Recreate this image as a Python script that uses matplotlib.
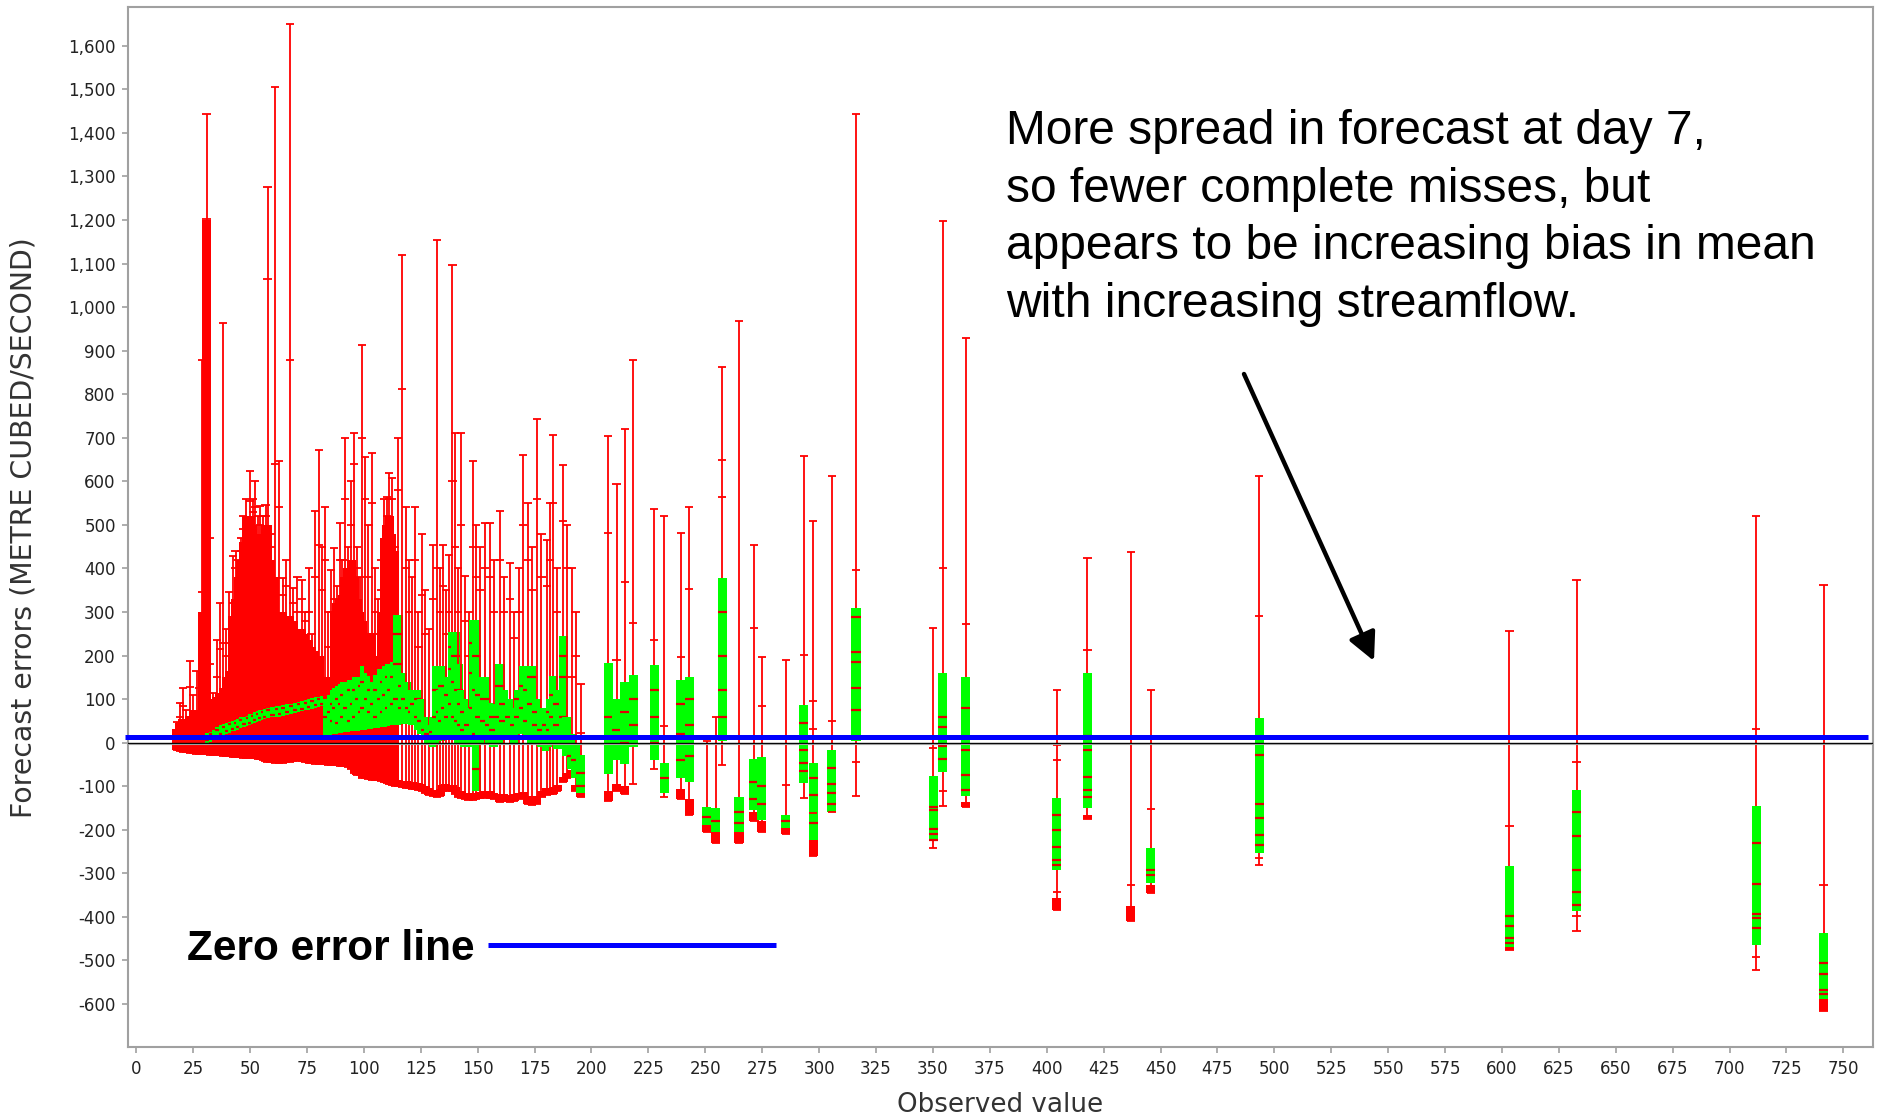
import numpy as np
import matplotlib.pyplot as plt
from matplotlib.ticker import FuncFormatter, MultipleLocator

nan = np.nan

# low observed flows (dense part): whisker range, upper cap, red body top, green box
dense_x = [17.8, 19.2, 20.4, 21.8, 23.6, 25.0, 26.5, 27.8, 29.0, 30.9,
           32.4, 33.8, 35.3, 36.8, 38.2, 39.6, 40.9, 42.4, 43.6, 44.8,
           46.0, 47.0, 48.3, 50.0, 51.2, 52.2, 53.4, 54.4, 55.6, 56.8,
           57.7, 59.0, 60.9, 62.8, 64.3, 65.8, 67.5, 69.0, 70.8, 72.7,
           74.0, 75.8, 77.0, 78.5, 80.3, 81.6, 82.9, 84.2, 85.6, 86.9,
           88.2, 89.5, 90.6, 91.7, 93.0, 94.4, 95.7, 97.0, 98.2, 99.3,
           100.5, 102.0, 103.4, 104.8, 106.2, 107.6, 109.0, 110.0, 111.1, 112.2,
           113.5, 115.0, 116.9, 118.5, 120.0, 121.3, 122.4, 124.0, 125.5, 127.0,
           128.5, 130.5, 132.0, 133.5, 134.7, 136.0, 137.4, 138.9, 140.2, 141.5,
           142.8, 144.4, 146.0, 148.1, 149.4, 151.0, 153.2, 155.4, 157.0, 159.8,
           161.5, 164.2, 166.0, 168.0, 170.0, 172.0, 173.8, 175.9, 178.0, 180.3,
           181.8, 183.2, 185.0, 187.6, 189.2, 191.3, 193.0, 195.3]
dense_min = [-16, -20, -22, -21, -24, -24, -25, -26, -27, -27,
             -28, -28, -29, -29, -30, -30, -31, -32, -32, -33,
             -33, -34, -34, -35, -35, -36, -37, -38, -40, -42,
             -44, -45, -46, -46, -46, -45, -44, -43, -42, -42,
             -44, -46, -47, -48, -49, -50, -50, -51, -51, -52,
             -52, -53, -54, -54, -55, -60, -70, -73, -75, -80,
             -82, -84, -85, -85, -86, -88, -90, -92, -95, -98,
             -100, -100, -102, -103, -105, -106, -106, -108, -110, -115,
             -120, -123, -124, -122, -110, -108, -110, -112, -118, -125,
             -128, -130, -131, -131, -130, -128, -127, -126, -130, -135,
             -133, -135, -133, -130, -128, -140, -142, -140, -125, -120,
             -118, -117, -110, -90, -80, -73, -110, -125]
dense_max = [48, 91, 125, 76, 187, 110, 164, 125, 879, 1444,
             470, 114, 235, 321, 963, 260, 347, 428, 441, 420,
             470, 521, 560, 623, 560, 600, 520, 544, 520, 545,
             1276, 480, 1505, 646, 378, 420, 1651, 355, 380, 374,
             300, 400, 250, 533, 673, 450, 542, 300, 396, 447,
             360, 504, 420, 700, 450, 600, 711, 450, 380, 912,
             657, 500, 665, 400, 330, 420, 560, 565, 620, 608,
             450, 700, 1119, 542, 420, 380, 542, 300, 480, 350,
             260, 454, 1153, 400, 454, 350, 430, 1096, 711, 400,
             711, 382, 300, 646, 500, 450, 504, 504, 420, 531,
             380, 412, 300, 400, 661, 550, 450, 744, 480, 466,
             550, 707, 400, 638, 500, 402, 300, 134]
dense_cap = [nan, 60, 85, nan, 128, nan, 72, nan, 345, 1203,
             180, nan, 150, 215, 230, 200, 230, 320, 400, nan,
             440, 490, nan, 555, 530, 540, nan, 500, nan, 520,
             1064, 450, 640, 540, 340, 360, 879, 320, 300, 330,
             280, 300, nan, 380, 455, 350, 420, 220, 300, 330,
             nan, 420, nan, 560, nan, 500, 640, 400, nan, 700,
             560, 380, 550, 300, 250, 350, 450, 520, 560, 560,
             nan, 580, 812, 400, 300, nan, 420, 220, 340, 250,
             nan, 330, 400, 300, 360, 250, 300, 600, 450, 300,
             500, 280, 200, 450, 380, 350, 400, 380, 300, 420,
             300, 330, 240, 300, 500, 420, 350, 560, 380, 360,
             420, 550, 300, 509, 400, 151, 200, 22]
dense_red = [32, 45, 55, 50, 62, 76, 70, 58, 300, 1200,
             100, 90, 105, 115, 125, 150, 165, 290, 330, 380,
             420, 460, 520, 520, 500, 480, 470, 440, 480, 500,
             500, 420, 380, 300, 300, 290, 290, 280, 260, 260,
             250, 236, 220, 210, 200, 150, 120, 114, 150, 300,
             320, 330, 340, 380, 400, 420, 380, 330, 300, 280,
             250, 250, 252, 200, 180, 300, 470, 500, 520, 480,
             440, -85, -88, -88, -90, -90, -92, -93, -95, -100,
             -105, -108, -108, -106, -96, -94, -96, -98, -102, -110,
             -112, -115, -116, -116, -115, -113, -112, -111, -115, -118,
             -118, -120, -118, -115, -113, -122, -125, -122, -110, -105,
             -103, -102, -96, -78, -70, -62, -96, -112]
dense_box_lo = [nan, nan, nan, nan, nan, nan, nan, nan, nan, nan,
                0, 2, 6, 10, 14, 16, 20, 22, 26, 28,
                30, 34, 36, 38, 40, 42, 46, 48, 50, 52,
                54, 56, 58, 60, 60, 62, 64, 66, 68, 70,
                72, 74, 76, 78, 80, 82, 84, 16, 18, 18,
                20, 20, 22, 22, 24, 24, 26, 26, 28, 28,
                30, 30, 32, 32, 34, 34, 35, 36, 36, 38,
                40, 40, 42, 42, 44, 40, 44, 30, 20, 10,
                0, -10, 0, 5, 10, 10, 15, 20, 10, 0,
                -5, -10, -10, 0, -110, 0, 10, 0, -10, 0,
                10, 10, 0, 20, 20, 10, 0, 0, -10, -20,
                -10, 0, -15, -10, -30, -60, -80, -116]
dense_box_hi = [nan, nan, nan, nan, nan, nan, nan, nan, nan, nan,
                22, 25, 30, 35, 40, 42, 45, 48, 50, 52,
                55, 58, 60, 62, 65, 67, 70, 72, 74, 76,
                78, 80, 82, 84, 85, 86, 88, 90, 92, 94,
                96, 98, 100, 102, 104, 106, 108, 100, 110, 120,
                125, 130, 135, 140, 140, 145, 145, 150, 150, 150,
                175, 160, 152, 140, 156, 170, 170, 175, 180, 180,
                185, 294, 160, 140, 122, 110, 122, 122, 100, 60,
                40, 60, 175, 120, 175, 120, 150, 255, 255, 180,
                120, 100, 80, 282, 282, 150, 150, 91, 90, 180,
                120, 100, 80, 120, 175, 175, 175, 100, 80, 60,
                100, 152, 120, 244, 60, 20, 0, -28]
dense_stripes = [[]] * 10 + [
    [6], [19], [12], [29], [20], [36], [26], [42], [32], [46],
    [36], [52], [42], [56], [46], [61], [52], [66], [56], [70],
    [60], [74], [64], [78], [66], [80], [70], [84], [74], [88],
    [78], [92], [82], [96], [86], [100], [90],
    [60], [70], [50, 90], [80], [45, 100], [90], [60, 110], [80], [50, 120], [90],
    [60, 120], [100], [70, 130], [80, 140], [100], [70, 120], [90], [60, 120], [100], [70, 140],
    [110], [80, 150], [120], [90, 150], [100, 180, 250], [80, 130], [100], [80], [70], [90],
    [60, 100], [50], [30], [20], [25], [60, 120], [70], [50, 130], [80], [60, 110],
    [90, 170, 220], [60, 140, 200], [50, 120], [40, 90], [30, 70], [40], [80, 160, 230],
    [-60, 20, 120, 200], [60, 110], [50, 100], [40], [30, 60], [60, 130], [50, 90], [60], [40],
    [60, 100], [80, 130], [50, 120], [90, 150], [40, 70], [30], [10, 40], [30, 70], [60, 110],
    [40, 90], [60, 150, 200], [10], [-30], [-40], [-70, -100]]

# higher observed flows: whisker range, extra caps, red block top, green box, stripes
obs_x = [207.4, 211.0, 214.7, 218.4, 227.5, 231.9, 239.2, 243.0, 250.6, 254.6,
         257.5, 264.8, 271.4, 274.8, 285.3, 293.3, 297.5, 305.5, 316.2, 350.2,
         354.3, 364.5, 404.5, 417.9, 437.0, 445.7, 493.4, 603.3, 632.8, 711.8,
         741.3]
obs_min = [-134, -110, -118, -95, -60, -125, -129, -165, -204, -230,
           -52, -230, -180, -204, -209, -127, -259, -160, -123, -242,
           -146, -147, -383, -175, -410, -344, -280, -477, -432, -521,
           -615]
obs_max = [705, 593, 721, 879, 536, 520, 481, 542, 5, 60,
           862, 968, 453, 196, 189, 659, 508, 612, 1444, 263,
           1197, 928, 122, 424, 437, 122, 612, 257, 374, 521,
           363]
obs_caps = [[481], [189], [369], [274], [235], [39], [196], [352], [], [],
            [650, 565], [], [263], [84], [-96], [202], [95, 31, -161], [50], [397, -45], [-12],
            [402, -112], [273], [-5, -39, -342], [212], [-326], [-152], [290, -265], [-191], [-45, -397], [32, -493],
            [-326]]
obs_red = [-112, -95, -100, nan, nan, nan, -107, -129, -190, -204,
           nan, -204, -160, -180, -195, nan, -223, nan, nan, nan,
           nan, -135, -356, -165, -374, -326, nan, -468, nan, nan,
           -588]
obs_box_lo = [-72, -40, -50, -10, -40, -115, -80, -90, -190, -204,
              3, -204, -155, -178, -195, -93, -223, -158, 3, -226,
              -68, -123, -292, -150, nan, -322, -253, -468, -387, -464,
              -588]
obs_box_hi = [182, 100, 140, 156, 178, -46, 145, 150, -148, -150,
              379, -125, -37, -33, -165, 87, -47, -16, 309, -77,
              161, 151, -126, 161, nan, -242, 57, -282, -108, -146,
              -437]
obs_stripes = [[60, 10], [30], [70, 0], [100, 40], [120, 60, 0], [-80], [90, 20, -40],
               [100, 40, -30], [-170], [-180], [300, 200, 120, 60], [-160, -185],
               [-90, -130], [-100, -140], [-180], [45, -16, -47, -66], [-80, -120, -184],
               [-57, -95, -116, -140], [288, 209, 186, 125, 75], [-147, -155, -197, -209, -224],
               [58, 35, -7, -38], [79, -16, -73, -108], [-165, -200, -240, -270, -280],
               [16, -16, -79, -108, -124], [], [-292, -303], [-29, -140, -174, -213, -236],
               [-399, -420, -448, -460], [-158, -214, -292, -342, -372],
               [-230, -325, -393, -403, -425], [-506, -532, -567, -576]]

zero_line_level = 12.4

RED = '#ff0000'
GREEN = '#00ff00'
STRIPE = '#e00000'
BOX_W = 4.0
CAP_W = 3.6


def draw_forecast(ax, x, lo, hi, caps, red_top, box_lo, box_hi, stripes):
    ax.vlines(x, lo, hi, color=RED, lw=1.3, zorder=2)
    if not np.isnan(red_top):
        ax.bar(x, red_top - lo, bottom=lo, width=BOX_W, color=RED, linewidth=0, zorder=2)
    if not np.isnan(box_lo):
        ax.bar(x, box_hi - box_lo, bottom=box_lo, width=BOX_W, color=GREEN, linewidth=0, zorder=2)
    if stripes:
        ax.hlines(stripes, x - BOX_W / 2, x + BOX_W / 2, color=STRIPE, lw=1.6, zorder=2)
    ends = [lo, hi] + [c for c in caps if not np.isnan(c)]
    ax.hlines(ends, x - CAP_W / 2, x + CAP_W / 2, color=RED, lw=1.3, zorder=2)


fig = plt.figure(figsize=(18.79, 11.19), dpi=100)
ax = fig.add_axes([0.06828, 0.06408, 0.92836, 0.92940])

for i in range(len(dense_x)):
    draw_forecast(ax, dense_x[i], dense_min[i], dense_max[i], [dense_cap[i]],
                  dense_red[i], dense_box_lo[i], dense_box_hi[i], dense_stripes[i])

for i in range(len(obs_x)):
    draw_forecast(ax, obs_x[i], obs_min[i], obs_max[i], obs_caps[i],
                  obs_red[i], obs_box_lo[i], obs_box_hi[i], obs_stripes[i])

ax.axhline(0, color='black', lw=1.0, zorder=3)
ax.axhline(-3, color='#a0a0a0', lw=0.8, zorder=3)
ax.plot([-5, 761], [zero_line_level, zero_line_level], color='#0000ff', lw=3.6,
        solid_capstyle='butt', clip_on=False, zorder=4)

ax.set_xlim(-3.5, 762.9)
ax.set_ylim(-699.3, 1688.4)
ax.xaxis.set_major_locator(MultipleLocator(25))
ax.yaxis.set_major_locator(MultipleLocator(100))
ax.yaxis.set_major_formatter(FuncFormatter(lambda v, p: f'{int(round(v)):,}'))
ax.tick_params(direction='out', length=4, width=1.2, color='#a0a0a0',
               labelsize=12, labelcolor='#222222', pad=5)
for s in ax.spines.values():
    s.set_color('#a0a0a0')
    s.set_linewidth(1.5)

ax.set_xlabel('Observed value', fontsize=18.8, color='#333333')
ax.xaxis.set_label_coords(0.5, -0.043)
ax.xaxis.label.set_va('top')
ax.set_ylabel('Forecast errors (METRE CUBED/SECOND)', fontsize=20.4, color='#333333')
ax.yaxis.set_label_coords(-0.0518, 0.5)

W, H = 1879.0, 1119.0

notes = ['More spread in forecast at day 7,',
         'so fewer complete misses, but',
         'appears to be increasing bias in mean',
         'with increasing streamflow.']
for k, line in enumerate(notes):
    fig.text(1006 / W, 1 - (144 + 57.5 * k) / H, line, fontsize=34.5,
             family='Liberation Sans', va='baseline', ha='left', color='black')

fig.text(187 / W, 1 - 960 / H, 'Zero error line', fontsize=30.5, fontweight='bold',
         family='Liberation Sans', va='baseline', ha='left', color='black')
fig.add_artist(plt.Line2D([488 / W, 776 / W], [1 - 945 / H, 1 - 945 / H],
                          color='#0000ff', lw=3.6, solid_capstyle='butt'))

ax.annotate('', xy=(1374, H - 661), xycoords='figure pixels',
            xytext=(1244, H - 374), textcoords='figure pixels',
            arrowprops=dict(arrowstyle='-|>', color='black', lw=3.2,
                            mutation_scale=42, shrinkA=0, shrinkB=0))

fig.savefig('out.png', dpi=100)
